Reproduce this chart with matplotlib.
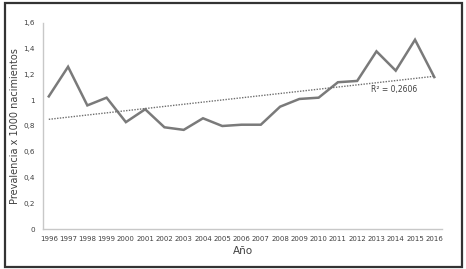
import numpy as np
import matplotlib
matplotlib.use("Agg")
import matplotlib.pyplot as plt
from matplotlib.patches import Rectangle

years = ["1996", "1997", "1998", "1999", "2000", "2001", "2002", "2003", "2004", "2005", "2006",
         "2007", "2008", "2009", "2010", "2011", "2012", "2013", "2014", "2015", "2016"]
prevalence = [1.03, 1.26, 0.96, 1.02, 0.83, 0.93, 0.79, 0.77, 0.86, 0.80, 0.81,
              0.81, 0.95, 1.01, 1.02, 1.14, 1.15, 1.38, 1.23, 1.47, 1.18]
y_ticks = [0, 0.2, 0.4, 0.6, 0.8, 1.0, 1.2, 1.4, 1.6]
y_tick_labels = ["0", "0,2", "0,4", "0,6", "0,8", "1", "1,2", "1,4", "1,6"]
r2_label = "R² = 0,2606"

narrow = ["Liberation Sans Narrow", "DejaVu Sans"]

fig = plt.figure(figsize=(4.66, 2.69), dpi=100)
fig.patch.set_facecolor("white")
fig.add_artist(Rectangle((4.5/466, 2.5/269), (462-4.5)/466, (266-2.5)/269,
                         transform=fig.transFigure, fill=False,
                         edgecolor="#333333", linewidth=1.6))

ax = fig.add_axes([43/466, 1-229/269, (442-43)/466, (229-23)/269])
x = np.arange(len(years))
ax.plot(x, prevalence, color="#7a7a7a", linewidth=1.8, solid_joinstyle="miter")

coef = np.polyfit(x, prevalence, 1)
ax.plot(x, np.polyval(coef, x), color="#6e6e6e", linewidth=1.0, linestyle=(0, (1, 1)))

ax.set_xlim(-0.3, 20.4)
ax.set_ylim(0, 1.6)
ax.set_yticks(y_ticks)
ax.set_yticklabels(y_tick_labels, family=narrow, fontsize=5.2, color="#404040")
ax.set_xticks(x)
ax.set_xticklabels(years, family=narrow, fontsize=5, color="#404040")
ax.tick_params(length=0)
ax.tick_params(axis="y", pad=6)
ax.tick_params(axis="x", pad=5)
for s in ["top", "right"]:
    ax.spines[s].set_visible(False)
for s in ["left", "bottom"]:
    ax.spines[s].set_color("#c8c8c8")
    ax.spines[s].set_linewidth(1.0)

ax.set_ylabel("Prevalencia x 1000 nacimientos", fontsize=7, color="#404040")
ax.yaxis.set_label_coords((20-43)/399, 0.5)
ax.set_xlabel("Año", fontsize=7.5, color="#404040", labelpad=3)

ax.text(17.9, 1.08, r2_label, family=narrow, fontsize=5.5, color="#404040", ha="center", va="center")

fig.savefig("out.png", dpi=100, facecolor="white")
